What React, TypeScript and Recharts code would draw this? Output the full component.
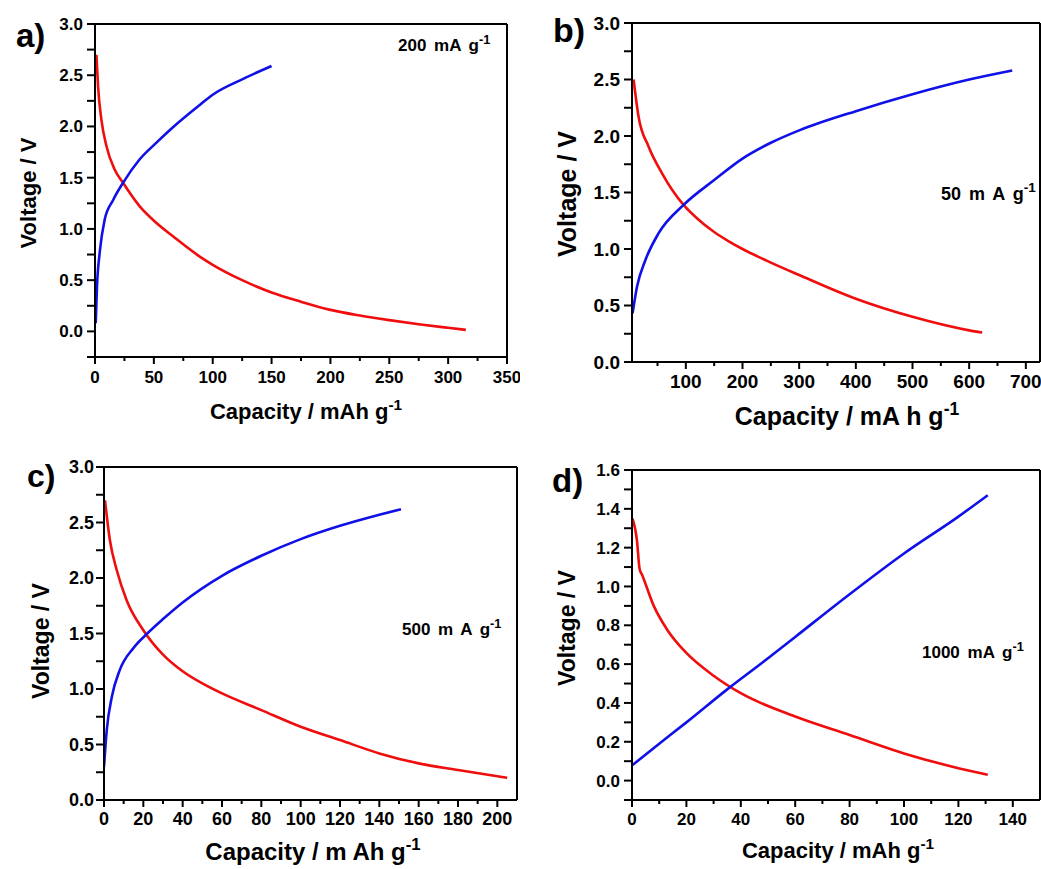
import React from 'react';
import { LineChart, Line, XAxis, YAxis } from 'recharts';

// ---------- DATA ----------
// Panel a) 200 mA g-1
const aDisCap = [1.2, 2.6, 5.4, 9.7, 16.7, 23.8, 38, 52, 66, 89, 100, 125, 150, 175, 200, 225, 250, 275, 300, 315];
const aDisV = [2.70, 2.39, 2.07, 1.81, 1.58, 1.45, 1.22, 1.06, 0.93, 0.73, 0.65, 0.50, 0.38, 0.29, 0.21, 0.155, 0.11, 0.07, 0.035, 0.015];
const aChCap = [0.6, 1.7, 4, 8.2, 15.3, 23.8, 38, 52, 66, 89, 100, 125, 150];
const aChV = [0.08, 0.44, 0.77, 1.09, 1.28, 1.45, 1.68, 1.84, 1.99, 2.21, 2.31, 2.46, 2.59];

// Panel b) 50 mA g-1
const bDisCap = [7.8, 16.6, 34, 58, 96, 120, 150, 175, 200, 250, 300, 400, 500, 600, 623];
const bDisV = [2.50, 2.17, 1.91, 1.67, 1.39, 1.27, 1.15, 1.07, 1.00, 0.88, 0.77, 0.56, 0.40, 0.28, 0.26];
const bChCap = [6, 14, 28.5, 52, 96, 150, 200, 250, 300, 400, 500, 600, 676];
const bChV = [0.43, 0.67, 0.90, 1.14, 1.39, 1.61, 1.80, 1.94, 2.05, 2.22, 2.37, 2.50, 2.58];

// Panel c) 500 mA g-1
const cDisCap = [0.5, 3, 6.5, 11.5, 20, 30, 40, 50, 60, 80, 100, 120, 140, 160, 180, 205];
const cDisV = [2.70, 2.34, 2.07, 1.80, 1.53, 1.31, 1.16, 1.05, 0.96, 0.81, 0.66, 0.54, 0.42, 0.33, 0.27, 0.20];
const cChCap = [0, 1.4, 4, 8, 15, 22, 30, 40, 60, 80, 100, 120, 140, 151];
const cChV = [0.30, 0.63, 0.93, 1.17, 1.37, 1.50, 1.63, 1.78, 2.02, 2.20, 2.35, 2.47, 2.57, 2.62];

// Panel d) 1000 mA g-1
const dDisCap = [0.2, 1.8, 2.8, 3.7, 8, 12.8, 19.8, 30, 40, 60, 80, 100, 120, 130.8];
const dDisV = [1.35, 1.24, 1.09, 1.06, 0.90, 0.78, 0.66, 0.54, 0.45, 0.33, 0.235, 0.14, 0.064, 0.03];
const dChCap = [0.2, 10, 20, 35, 50, 60, 80, 100, 120, 130.8];
const dChV = [0.08, 0.19, 0.30, 0.47, 0.63, 0.74, 0.96, 1.17, 1.36, 1.47];

// Tick values (major labelled, minor unlabelled)
const aXMajor = [0, 50, 100, 150, 200, 250, 300, 350];
const aXMinor = [25, 75, 125, 175, 225, 275, 325];
const aYMajor = [0, 0.5, 1.0, 1.5, 2.0, 2.5, 3.0];
const aYMinor = [-0.25, 0.25, 0.75, 1.25, 1.75, 2.25, 2.75];

const bXMajor = [100, 200, 300, 400, 500, 600, 700];
const bXMinor = [50, 150, 250, 350, 450, 550, 650];
const bYMajor = [0, 0.5, 1.0, 1.5, 2.0, 2.5, 3.0];
const bYMinor = [0.25, 0.75, 1.25, 1.75, 2.25, 2.75];

const cXMajor = [0, 20, 40, 60, 80, 100, 120, 140, 160, 180, 200];
const cXMinor = [10, 30, 50, 70, 90, 110, 130, 150, 170, 190];
const cYMajor = [0, 0.5, 1.0, 1.5, 2.0, 2.5, 3.0];
const cYMinor = [0.25, 0.75, 1.25, 1.75, 2.25, 2.75];

const dXMajor = [0, 20, 40, 60, 80, 100, 120, 140];
const dXMinor = [10, 30, 50, 70, 90, 110, 130];
const dYMajor = [0, 0.2, 0.4, 0.6, 0.8, 1.0, 1.2, 1.4, 1.6];
const dYMinor = [-0.1, 0.1, 0.3, 0.5, 0.7, 0.9, 1.1, 1.3, 1.5];

// ---------- HELPERS ----------
const zip = (cap: number[], v: number[]) => cap.map((c, i) => ({ c, v: v[i] }));
const FONT = 'Liberation Sans, Arial, sans-serif';
const RED = '#f00d0d';
const BLUE = '#1010e8';

type PanelCfg = {
  left: number; top: number; w: number; h: number;
  plot: { l: number; t: number; r: number; b: number };
  xDomain: [number, number]; yDomain: [number, number];
  xMajor: number[]; xMinor: number[]; yMajor: number[]; yMinor: number[];
  tickFont: number; xLabelGap: number; yLabelGap: number;
  letter: string; letterPos: [number, number]; letterSize: number;
  note: string; notePos: [number, number]; noteSize: number;
  xTitle: string; xTitlePos: [number, number]; xTitleSize: number;
  yTitlePos: [number, number]; yTitleSize: number;
  dis: { c: number; v: number }[]; ch: { c: number; v: number }[];
};

const near = (arr: number[], v: number) => arr.some((m) => Math.abs(m - v) < 1e-6);

const XTick = (props: any) => {
  const { x, y, payload, majors, gap, font } = props;
  const v = Number(payload.value);
  const major = near(majors, v);
  return (
    <g>
      <line x1={x} x2={x} y1={y} y2={y + (major ? 7 : 4)} stroke="#000" strokeWidth={2} />
      {major && (
        <text x={x} y={y + gap} textAnchor="middle" fill="#000" fontWeight="bold" fontSize={font} fontFamily={FONT}>
          {v.toFixed(0)}
        </text>
      )}
    </g>
  );
};

const renderChart = (cfg: PanelCfg, key: string) => {
  const { plot } = cfg;
  const xTicks = [...cfg.xMajor, ...cfg.xMinor].sort((p, q) => p - q);
  const yTicks = [...cfg.yMajor, ...cfg.yMinor].sort((p, q) => p - q);
  const yMajors = cfg.yMajor;
  return (
    <LineChart
      key={key}
      width={cfg.w}
      height={cfg.h}
      margin={{ top: plot.t - 1, right: cfg.w - plot.r, left: 0, bottom: 0 }}
      style={{ position: 'absolute', left: cfg.left, top: cfg.top }}
    >
      <XAxis
        xAxisId="main"
        type="number"
        dataKey="c"
        domain={cfg.xDomain}
        allowDataOverflow
        ticks={xTicks}
        interval={0}
        tickSize={0}
        tickMargin={0}
        tickLine={false}
        height={cfg.h - plot.b}
        axisLine={{ stroke: '#000', strokeWidth: 2 }}
        tick={(p: any) => <XTick {...p} majors={cfg.xMajor} gap={cfg.xLabelGap} font={cfg.tickFont} />}
      />
      <XAxis
        xAxisId="top"
        orientation="top"
        type="number"
        domain={cfg.xDomain}
        height={1}
        tick={false}
        tickLine={false}
        axisLine={{ stroke: '#000', strokeWidth: 2 }}
      />
      <YAxis
        yAxisId="main"
        type="number"
        dataKey="v"
        domain={cfg.yDomain}
        allowDataOverflow
        ticks={yTicks}
        interval={0}
        tickSize={8}
        tickMargin={Math.max(0, cfg.yLabelGap - 8)}
        tickLine={{ stroke: '#000', strokeWidth: 2 }}
        width={plot.l}
        axisLine={{ stroke: '#000', strokeWidth: 2 }}
        tick={{ fill: '#000', fontSize: cfg.tickFont, fontWeight: 'bold', fontFamily: FONT }}
        tickFormatter={(v: number) => (near(yMajors, v) ? Number(v).toFixed(1) : '')}
      />
      <Line xAxisId="main" yAxisId="main" data={cfg.dis} dataKey="v" type="monotone" stroke={RED} strokeWidth={2.6} dot={false} isAnimationActive={false} />
      <Line xAxisId="main" yAxisId="main" data={cfg.ch} dataKey="v" type="monotone" stroke={BLUE} strokeWidth={2.6} dot={false} isAnimationActive={false} />
    </LineChart>
  );
};

const renderTexts = (cfg: PanelCfg, key: string) => (
  <svg
    key={key}
    width={cfg.w}
    height={cfg.h}
    style={{ position: 'absolute', left: cfg.left, top: cfg.top, pointerEvents: 'none' }}
  >
    <line x1={cfg.plot.r} x2={cfg.plot.r} y1={cfg.plot.t} y2={cfg.plot.b} stroke="#000" strokeWidth={2} />
    <text x={cfg.xTitlePos[0]} y={cfg.xTitlePos[1]} textAnchor="middle" fill="#000" fontWeight="bold" fontSize={cfg.xTitleSize} fontFamily={FONT}>
      {cfg.xTitle}
      <tspan dy={-cfg.xTitleSize * 0.42} fontSize={cfg.xTitleSize * 0.7}>-1</tspan>
    </text>
    <text
      x={cfg.yTitlePos[0]}
      y={cfg.yTitlePos[1]}
      textAnchor="middle"
      transform={`rotate(-90, ${cfg.yTitlePos[0]}, ${cfg.yTitlePos[1]})`}
      fill="#000"
      fontWeight="bold"
      fontSize={cfg.yTitleSize}
      fontFamily={FONT}
    >
      Voltage / V
    </text>
    <text x={cfg.letterPos[0]} y={cfg.letterPos[1]} fill="#000" fontWeight="bold" fontSize={cfg.letterSize} fontFamily={FONT}>
      {cfg.letter}
    </text>
    <text x={cfg.notePos[0]} y={cfg.notePos[1]} fill="#000" fontWeight="bold" fontSize={cfg.noteSize} fontFamily={FONT} style={{ wordSpacing: '3px' }}>
      {cfg.note}
      <tspan dy={-cfg.noteSize * 0.42} fontSize={cfg.noteSize * 0.75}>-1</tspan>
    </text>
  </svg>
);

const panels: PanelCfg[] = [
  {
    left: 0, top: 0, w: 520, h: 430,
    plot: { l: 95, t: 24, r: 507, b: 357 },
    xDomain: [0, 350], yDomain: [-0.25, 3],
    xMajor: aXMajor, xMinor: aXMinor, yMajor: aYMajor, yMinor: aYMinor,
    tickFont: 17, xLabelGap: 26, yLabelGap: 12,
    letter: 'a)', letterPos: [16, 47], letterSize: 33,
    note: '200 mA g', notePos: [398, 51], noteSize: 17,
    xTitle: 'Capacity / mAh g', xTitlePos: [306, 419], xTitleSize: 22,
    yTitlePos: [36, 193], yTitleSize: 22,
    dis: zip(aDisCap, aDisV), ch: zip(aChCap, aChV),
  },
  {
    left: 520, top: 0, w: 521, h: 430,
    plot: { l: 112, t: 23, r: 520, b: 362 },
    xDomain: [5, 725], yDomain: [0, 3],
    xMajor: bXMajor, xMinor: bXMinor, yMajor: bYMajor, yMinor: bYMinor,
    tickFont: 19, xLabelGap: 26, yLabelGap: 12,
    letter: 'b)', letterPos: [33, 42], letterSize: 34,
    note: '50 m A g', notePos: [421, 200], noteSize: 18,
    xTitle: 'Capacity / mA h g', xTitlePos: [327, 425], xTitleSize: 25,
    yTitlePos: [56, 194], yTitleSize: 25,
    dis: zip(bDisCap, bDisV), ch: zip(bChCap, bChV),
  },
  {
    left: 0, top: 430, w: 520, h: 439,
    plot: { l: 104, t: 37, r: 517, b: 370 },
    xDomain: [0, 210], yDomain: [0, 3],
    xMajor: cXMajor, xMinor: cXMinor, yMajor: cYMajor, yMinor: cYMinor,
    tickFont: 18, xLabelGap: 25, yLabelGap: 10,
    letter: 'c)', letterPos: [27, 57], letterSize: 32,
    note: '500 m A g', notePos: [402, 205], noteSize: 17,
    xTitle: 'Capacity / m Ah g', xTitlePos: [313, 430], xTitleSize: 24,
    yTitlePos: [49, 211], yTitleSize: 23,
    dis: zip(cDisCap, cDisV), ch: zip(cChCap, cChV),
  },
  {
    left: 520, top: 430, w: 521, h: 439,
    plot: { l: 112, t: 40, r: 520, b: 370 },
    xDomain: [0, 150], yDomain: [-0.1, 1.6],
    xMajor: dXMajor, xMinor: dXMinor, yMajor: dYMajor, yMinor: dYMinor,
    tickFont: 17, xLabelGap: 25, yLabelGap: 12,
    letter: 'd)', letterPos: [32, 62], letterSize: 33,
    note: '1000 mA g', notePos: [402, 228], noteSize: 17,
    xTitle: 'Capacity / mAh g', xTitlePos: [318, 428], xTitleSize: 22,
    yTitlePos: [55, 198], yTitleSize: 23,
    dis: zip(dDisCap, dDisV), ch: zip(dChCap, dChV),
  },
];

export default function App() {
  return (
    <div style={{ position: 'absolute', left: 0, top: 0, width: 1041, height: 869, background: '#fff' }}>
      {panels.map((p, i) => renderChart(p, 'c' + i))}
      {panels.map((p, i) => renderTexts(p, 't' + i))}
    </div>
  );
}
